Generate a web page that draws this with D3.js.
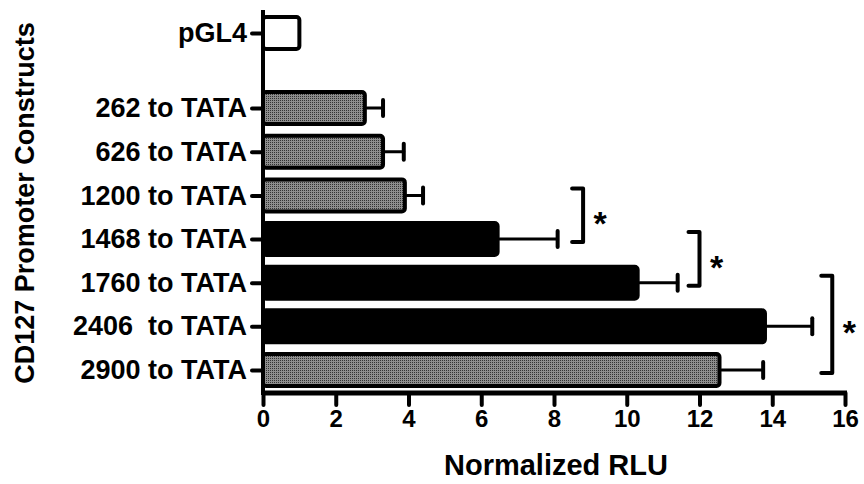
<!DOCTYPE html>
<html>
<head>
<meta charset="UTF-8">
<title>CD127 promoter constructs</title>
<script src="https://cdn.jsdelivr.net/npm/d3@7"></script>
<style>
    body { margin: 0; background: #fff; }
    svg { display: block; font-family: "Liberation Sans", Arial, sans-serif; font-weight: bold; }
</style>
</head>
<body>
<div id="chart"></div>
<script>
// data
const constructs = ["pGL4", "262 to TATA", "626 to TATA", "1200 to TATA", "1468 to TATA",
                    "1760 to TATA", "2406  to TATA", "2900 to TATA"];
const rlu = [1.0, 2.8, 3.3, 3.9, 6.45, 10.3, 13.8, 12.55];
const sem = [0, 0.5, 0.57, 0.5, 1.65, 1.1, 1.3, 1.2];
const fillKind = ["empty", "gray", "gray", "gray", "black", "black", "black", "gray"];
const xTicks = [0, 2, 4, 6, 8, 10, 12, 14, 16];
// significance brackets: first and last construct, x position in RLU
const brackets = [
    ["1200 to TATA", "1468 to TATA", 8.8],
    ["1468 to TATA", "1760 to TATA", 12.0],
    ["1760 to TATA", "2900 to TATA", 15.65]
];

const width = 864, height = 484;
const svg = d3.select("#chart").append("svg")
    .attr("width", width).attr("height", height);

// stipple for the gray bars
const pat = svg.append("defs").append("pattern")
    .attr("id", "stipple").attr("width", 2).attr("height", 2)
    .attr("patternUnits", "userSpaceOnUse");
pat.append("rect").attr("width", 2).attr("height", 2).attr("fill", "#8e8e8e");
pat.append("rect").attr("width", 1).attr("height", 1).attr("fill", "#333");

const x = d3.scaleLinear().domain([0, 16]).range([263, 845]);

// pGL4 sits a bit apart from the promoter constructs
const slot = i => i === 0 ? 0 : i + 0.72;
const slotScale = d3.scaleLinear().domain([0, 7.72]).range([33, 370]);
const y = d3.scaleOrdinal().domain(constructs).range(constructs.map((c, i) => slotScale(slot(i))));
const barH = 32;

const fills = { empty: "#fff", gray: "url(#stipple)", black: "#000" };

// bars
svg.append("g").selectAll("rect")
    .data(constructs)
    .join("rect")
    .attr("x", x(0))
    .attr("y", d => y(d) - barH / 2)
    .attr("width", (d, i) => x(rlu[i]) - x(0))
    .attr("height", barH)
    .attr("rx", 3)
    .attr("fill", (d, i) => fills[fillKind[i]])
    .attr("stroke", "#000")
    .attr("stroke-width", 4);

// error bars
const err = svg.append("g").attr("stroke", "#000").attr("stroke-linecap", "round");
constructs.forEach((c, i) => {
    if (!sem[i]) return;
    err.append("line")
        .attr("x1", x(rlu[i]) + 2).attr("x2", x(rlu[i] + sem[i]))
        .attr("y1", y(c)).attr("y2", y(c))
        .attr("stroke-width", 3);
    err.append("line")
        .attr("x1", x(rlu[i] + sem[i])).attr("x2", x(rlu[i] + sem[i]))
        .attr("y1", y(c) - 8).attr("y2", y(c) + 8)
        .attr("stroke-width", 4);
});

// axes
const xAxis = svg.append("g")
    .attr("transform", "translate(0,393)")
    .call(d3.axisBottom(x).tickValues(xTicks).tickSize(12).tickPadding(5).tickSizeOuter(0));
xAxis.select(".domain").attr("stroke-width", 5).attr("d", `M${x(0)},0H${x(16) + 2}`);
xAxis.selectAll(".tick line").attr("stroke-width", 4).attr("stroke-linecap", "round");
xAxis.selectAll(".tick text")
    .attr("font-size", 24).attr("font-family", "Liberation Sans, Arial, sans-serif")
    .attr("font-weight", "bold").attr("fill", "#000");

const yAxis = svg.append("g")
    .attr("transform", `translate(${x(0)},0)`)
    .call(d3.axisLeft(y).tickSize(11).tickPadding(5).tickSizeOuter(0));
yAxis.select(".domain").attr("stroke-width", 4).attr("d", "M0,10V395");
yAxis.selectAll(".tick line").attr("stroke-width", 4).attr("stroke-linecap", "round");
yAxis.selectAll(".tick text")
    .attr("font-size", 27).attr("font-family", "Liberation Sans, Arial, sans-serif")
    .attr("font-weight", "bold").attr("fill", "#000").style("white-space", "pre");

// axis titles
svg.append("text")
    .attr("x", 556).attr("y", 475)
    .attr("text-anchor", "middle").attr("font-size", 29)
    .text("Normalized RLU");

svg.append("text")
    .attr("transform", "translate(34,203) rotate(-90)")
    .attr("text-anchor", "middle").attr("font-size", 27)
    .text("CD127 Promoter Constructs");

// significance brackets
const br = svg.append("g");
brackets.forEach(([a, b, xv]) => {
    const top = y(a) - 7, bot = y(b) + 3, bx = x(xv);
    br.append("path")
        .attr("d", `M${bx - 11},${top}H${bx}V${bot}H${bx - 11}`)
        .attr("fill", "none").attr("stroke", "#000")
        .attr("stroke-width", 4).attr("stroke-linejoin", "round").attr("stroke-linecap", "round");
    br.append("text")
        .attr("x", bx + 17).attr("y", (top + bot) / 2 + 20)
        .attr("text-anchor", "middle").attr("font-size", 34)
        .text("*");
});
</script>
</body>
</html>
